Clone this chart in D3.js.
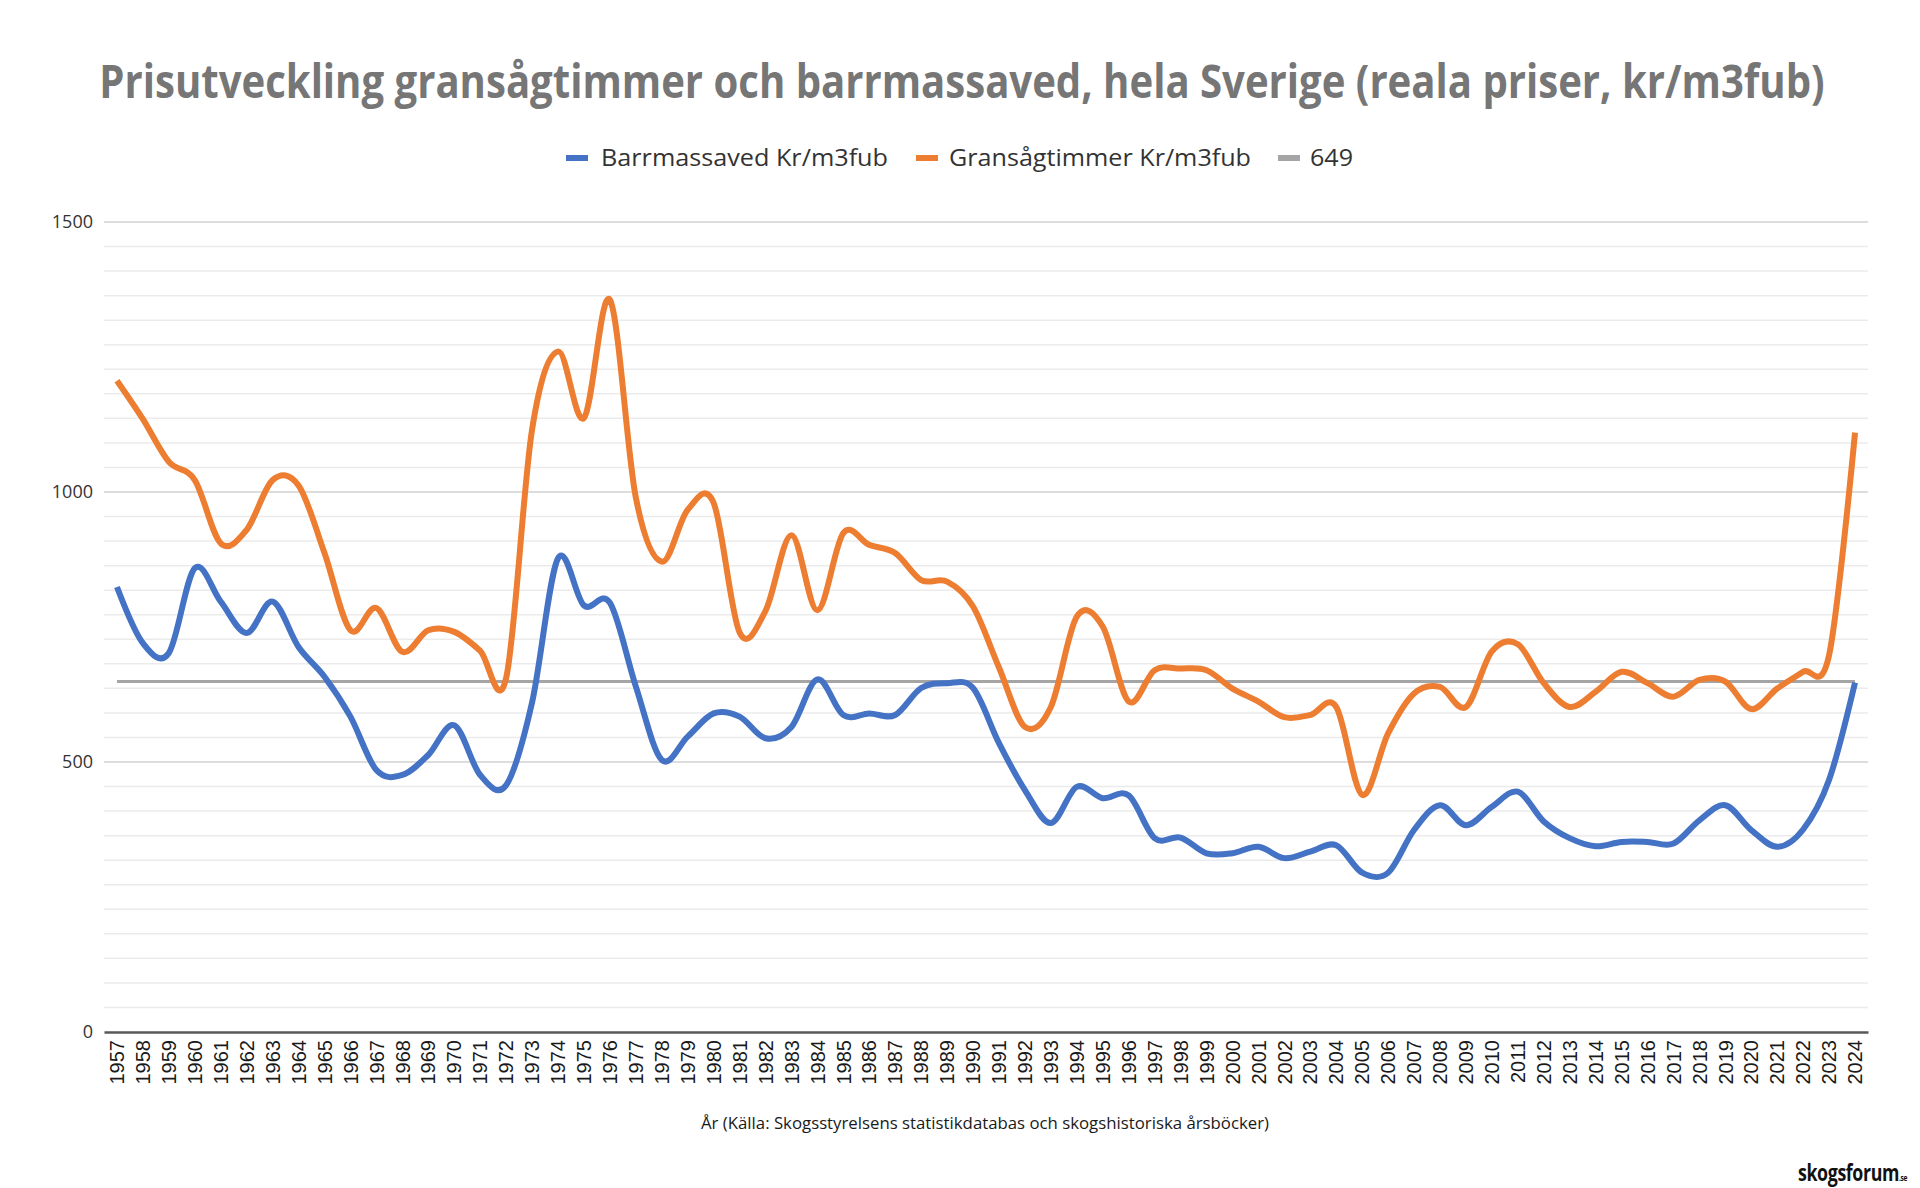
<!DOCTYPE html>
<html>
<head>
<meta charset="utf-8">
<script src="https://cdn.jsdelivr.net/npm/d3@7"></script>
<style>
  body { margin: 0; background: #fff; }
  svg { display: block; }
</style>
</head>
<body>
<svg id="chart"></svg>
<script>
// Years on the category axis
const years = [1957, 1958, 1959, 1960, 1961, 1962, 1963, 1964, 1965, 1966,
    1967, 1968, 1969, 1970, 1971, 1972, 1973, 1974, 1975, 1976,
    1977, 1978, 1979, 1980, 1981, 1982, 1983, 1984, 1985, 1986,
    1987, 1988, 1989, 1990, 1991, 1992, 1993, 1994, 1995, 1996,
    1997, 1998, 1999, 2000, 2001, 2002, 2003, 2004, 2005, 2006,
    2007, 2008, 2009, 2010, 2011, 2012, 2013, 2014, 2015, 2016,
    2017, 2018, 2019, 2020, 2021, 2022, 2023, 2024];

// Barrmassaved Kr/m3fub
const barrmassaved = [824, 720, 702, 859, 797, 739, 797, 713, 658, 584,
    485, 476, 513, 568, 476, 457, 610, 877, 790, 795,
    640, 504, 547, 590, 584, 544, 565, 653, 587, 590,
    587, 637, 646, 637, 535, 448, 387, 454, 433, 438,
    359, 360, 331, 331, 343, 322, 334, 346, 295, 295,
    374, 420, 383, 417, 445, 390, 359, 344, 352, 352,
    349, 392, 420, 374, 343, 375, 467, 647];

// Gransågtimmer Kr/m3fub
const gransagtimmer = [1206, 1135, 1056, 1022, 905, 930, 1022, 1012, 887, 744,
    785, 704, 744, 741, 706, 655, 1115, 1260, 1137, 1356,
    990, 871, 967, 980, 740, 780, 920, 781, 924, 902,
    887, 837, 834, 788, 675, 565, 602, 769, 751, 612,
    670, 673, 670, 636, 612, 583, 587, 602, 439, 553,
    627, 639, 602, 705, 718, 646, 602, 630, 667, 646,
    621, 652, 649, 598, 636, 667, 698, 1110];

// Reference level
const refValue = 649;

const yTicks = [0, 500, 1000, 1500];
const minorPerMajor = 11;

const seriesNames = ["Barrmassaved Kr/m3fub", "Gransågtimmer Kr/m3fub", "649"];
const colors = ["#4472C4", "#ED7D31", "#A5A5A5"];

const width = 1920;
const height = 1188;
const plot = { left: 104, right: 1868, top: 222, bottom: 1032 };

const svg = d3.select("#chart")
    .attr("width", width)
    .attr("height", height);

svg.append("rect")
    .attr("width", width)
    .attr("height", height)
    .attr("fill", "#fff");

const x = d3.scaleBand()
    .domain(years)
    .range([plot.left, plot.right]);

const y = d3.scaleLinear()
    .domain([0, 1500])
    .range([plot.bottom, plot.top]);

const xc = d => x(d) + x.bandwidth() / 2;

// Minor gridlines
const minorStep = 500 / minorPerMajor;
const minorVals = d3.range(0, 1500 + 1e-6, minorStep)
    .filter(v => yTicks.every(t => Math.abs(t - v) > 1e-6));

svg.append("g")
    .selectAll("line")
    .data(minorVals)
    .enter()
    .append("line")
    .attr("x1", plot.left)
    .attr("x2", plot.right)
    .attr("y1", d => y(d))
    .attr("y2", d => y(d))
    .attr("stroke", "#ebebeb")
    .attr("stroke-width", 1.5);

// Major gridlines
svg.append("g")
    .selectAll("line")
    .data(yTicks.filter(d => d > 0))
    .enter()
    .append("line")
    .attr("x1", plot.left)
    .attr("x2", plot.right)
    .attr("y1", d => y(d))
    .attr("y2", d => y(d))
    .attr("stroke", "#d2d2d2")
    .attr("stroke-width", 1.5);

// Y axis labels
const yAxis = d3.axisLeft(y)
    .tickValues(yTicks)
    .tickFormat(d3.format("d"))
    .tickSize(0)
    .tickPadding(11);

svg.append("g")
    .attr("transform", `translate(${plot.left},0)`)
    .call(yAxis)
    .call(g => g.select(".domain").remove())
    .selectAll("text")
    .style("font-family", "'Open Sans', sans-serif")
    .style("font-size", "18px")
    .style("fill", "#333");

// X axis
const xAxis = d3.axisBottom(x)
    .tickSize(0)
    .tickPadding(0);

const xg = svg.append("g")
    .attr("transform", `translate(0,${plot.bottom})`)
    .call(xAxis);

xg.select(".domain")
    .attr("stroke", "#595959")
    .attr("stroke-width", 2.5);

xg.selectAll("text")
    .attr("transform", "translate(0,8) rotate(-90)")
    .attr("text-anchor", "end")
    .attr("x", 0)
    .attr("y", 0)
    .attr("dy", "0.36em")
    .style("font-family", "'Liberation Sans', Arial, sans-serif")
    .style("font-size", "20px")
    .style("fill", "#1a1a1a");

// Series lines
const line = d3.line()
    .x((d, i) => xc(years[i]))
    .y(d => y(d))
    .curve(d3.curveCatmullRom.alpha(0));

svg.append("path")
    .datum(years)
    .attr("d", d3.line().x(d => xc(d)).y(() => y(refValue)))
    .attr("fill", "none")
    .attr("stroke", colors[2])
    .attr("stroke-width", 3);

svg.append("path")
    .datum(gransagtimmer)
    .attr("d", line)
    .attr("fill", "none")
    .attr("stroke", colors[1])
    .attr("stroke-width", 6)
    .attr("stroke-linejoin", "round");

svg.append("path")
    .datum(barrmassaved)
    .attr("d", line)
    .attr("fill", "none")
    .attr("stroke", colors[0])
    .attr("stroke-width", 6)
    .attr("stroke-linejoin", "round");

// Title, squeezed horizontally to the width of the original condensed font
const title = svg.append("text")
    .attr("text-anchor", "middle")
    .style("font-family", "'Open Sans', sans-serif")
    .style("font-weight", "bold")
    .style("font-size", "46px")
    .style("fill", "#767676")
    .text("Prisutveckling gransågtimmer och barrmassaved, hela Sverige (reala priser, kr/m3fub)");

const titleScale = 1726 / title.node().getComputedTextLength();
title.attr("transform", `translate(962,98) scale(${titleScale},1)`);

// Legend
const legendItems = [
    { name: seriesNames[0], color: colors[0], mx: 566, tx: 601, tw: 287 },
    { name: seriesNames[1], color: colors[1], mx: 916, tx: 949, tw: 302 },
    { name: seriesNames[2], color: colors[2], mx: 1278, tx: 1310, tw: 43 }
];

const legend = svg.append("g");

legend.selectAll("line")
    .data(legendItems)
    .enter()
    .append("line")
    .attr("x1", d => d.mx)
    .attr("x2", d => d.mx + 22)
    .attr("y1", 158)
    .attr("y2", 158)
    .attr("stroke", d => d.color)
    .attr("stroke-width", 6);

legend.selectAll("text")
    .data(legendItems)
    .enter()
    .append("text")
    .attr("x", d => d.tx)
    .attr("y", 166)
    .attr("textLength", d => d.tw)
    .attr("lengthAdjust", "spacingAndGlyphs")
    .style("font-family", "'Open Sans', sans-serif")
    .style("font-size", "23px")
    .style("fill", "#333")
    .text(d => d.name);

// Axis title
svg.append("text")
    .attr("x", 985)
    .attr("y", 1129)
    .attr("text-anchor", "middle")
    .attr("textLength", 568)
    .attr("lengthAdjust", "spacingAndGlyphs")
    .style("font-family", "'Open Sans', sans-serif")
    .style("font-size", "17px")
    .style("fill", "#1a1a1a")
    .text("År (Källa: Skogsstyrelsens statistikdatabas och skogshistoriska årsböcker)");

// Watermark, one text element squeezed horizontally
const mark = svg.append("text")
    .attr("transform", "translate(1798,1181) scale(0.74,1)")
    .style("font-family", "'Open Sans', sans-serif")
    .style("font-weight", "bold")
    .style("font-size", "24px")
    .style("letter-spacing", "-0.5px")
    .style("fill", "#111");

mark.append("tspan").text("skogsforum");
mark.append("tspan")
    .style("font-size", "9px")
    .text(".se");
</script>
</body>
</html>
